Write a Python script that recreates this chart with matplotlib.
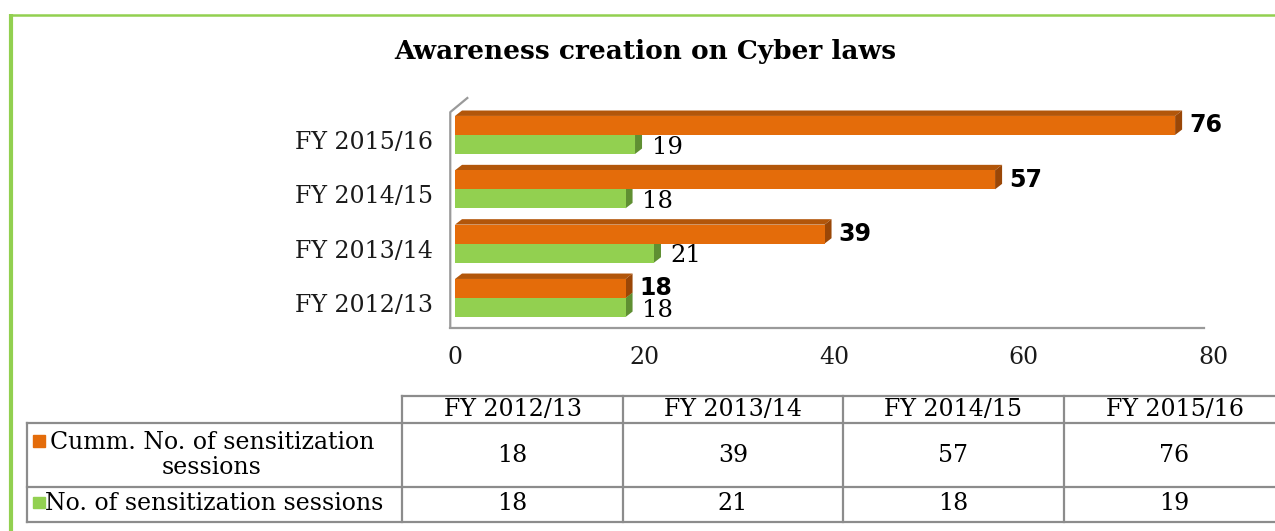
"""Awareness creation on Cyber laws: 3D-style horizontal bars with a data table."""

import matplotlib
matplotlib.use("Agg")
import matplotlib.pyplot as plt
from matplotlib.patches import Polygon, Rectangle
from matplotlib.lines import Line2D

plt.rcParams["font.family"] = ["DejaVu Serif"]

# Data
categories = ["FY 2012/13", "FY 2013/14", "FY 2014/15", "FY 2015/16"]
cumm_sessions = [18, 39, 57, 76]
sessions = [18, 21, 18, 19]
cumm_label = "Cumm. No. of sensitization\nsessions"
sess_label = "No. of sensitization sessions"
x_ticks = [0, 20, 40, 60, 80]
title = "Awareness creation on Cyber laws"

# Colours
ORANGE = "#E46C0A"
ORANGE_TOP = "#B2560A"
ORANGE_SIDE = "#9A4707"
GREEN = "#92D050"
GREEN_TOP = "#79B03E"
GREEN_SIDE = "#5F8F32"
GRID_GRAY = "#9a9a9a"
TABLE_GRAY = "#8c8c8c"

FS = 17  # body text size

W, H = 1275, 531
fig = plt.figure(figsize=(W / 100, H / 100), dpi=100)


def fx(px):
    return px / W


def fy(py):
    return 1 - py / H


# Green frame on the left and top
fig.add_artist(Line2D([fx(9), fx(1275)], [fy(15), fy(15)], color=GREEN, lw=1.8,
                      solid_capstyle="butt"))
fig.add_artist(Line2D([fx(10.8), fx(10.8)], [fy(14), fy(531)], color=GREEN, lw=3,
                      solid_capstyle="butt"))

fig.text(fx(645), fy(52), title, ha="center", va="center",
         fontsize=19, fontweight="bold")

# Plot area in pixel terms
ax = fig.add_axes([fx(455), fy(327), fx(1213) - fx(455), (327 - 98) / H])
ax.set_xlim(0, 80)
ax.set_ylim(-0.534, 3.68)
for s in ax.spines.values():
    s.set_visible(False)

bar_h = 0.35
dx, dy = 0.74, 0.1  # depth of the 3D faces


def bar3d(y, v, front, top, side):
    bottom, upper = y - bar_h / 2, y + bar_h / 2
    ax.add_patch(Polygon([(0, upper), (v, upper), (v + dx, upper + dy), (dx, upper + dy)],
                         closed=True, facecolor=top, edgecolor="none"))
    ax.add_patch(Polygon([(v, bottom), (v, upper), (v + dx, upper + dy), (v + dx, bottom + dy)],
                         closed=True, facecolor=side, edgecolor="none"))
    ax.barh(y, v, height=bar_h, color=front, edgecolor="none")


# back wall / floor outline
ax.add_line(Line2D([-0.5, -0.5, 1.3], [-0.534, 3.42, 3.68], color=GRID_GRAY, lw=1.6, clip_on=False))
ax.add_line(Line2D([-0.5, 79], [-0.56, -0.56], color=GRID_GRAY, lw=1.6, clip_on=False))

for i, (c, s) in enumerate(zip(cumm_sessions, sessions)):
    bar3d(i - 0.175, s, GREEN, GREEN_TOP, GREEN_SIDE)
    bar3d(i + 0.175, c, ORANGE, ORANGE_TOP, ORANGE_SIDE)
    ax.annotate(str(s), (s, i - 0.175), xytext=(12, -2), textcoords="offset points",
                ha="left", va="center", fontsize=17.5)
    ax.annotate(str(c), (c, i + 0.175), xytext=(10, 0), textcoords="offset points",
                ha="left", va="center", fontsize=17, fontweight="bold",
                family=["DejaVu Sans"])

ax.set_yticks([i - 0.09 for i in range(len(categories))])
ax.set_yticklabels(categories)
ax.set_xticks(x_ticks)
ax.set_xticklabels([str(t) for t in x_ticks])
ax.tick_params(axis="both", length=0, labelsize=FS, colors="#1a1a1a")
ax.tick_params(axis="y", pad=16)
ax.tick_params(axis="x", pad=14)

# Data table below
col_edges = [402, 623, 843, 1064, 1285]
row_edges = [396, 423, 487, 522]
left_edge = 27

fig.add_artist(Line2D([fx(col_edges[0]), fx(col_edges[-1])], [fy(row_edges[0])] * 2,
                      color=TABLE_GRAY, lw=1.6))
for ry in row_edges[1:]:
    fig.add_artist(Line2D([fx(left_edge), fx(col_edges[-1])], [fy(ry)] * 2,
                          color=TABLE_GRAY, lw=1.6))
fig.add_artist(Line2D([fx(left_edge)] * 2, [fy(row_edges[1]), fy(row_edges[-1])],
                      color=TABLE_GRAY, lw=1.6))
for cx in col_edges[:-1]:
    fig.add_artist(Line2D([fx(cx)] * 2, [fy(row_edges[0]), fy(row_edges[-1])],
                          color=TABLE_GRAY, lw=1.6))

for j, cat in enumerate(categories):
    cx = (col_edges[j] + col_edges[j + 1]) / 2
    fig.text(fx(cx), fy(409), cat, ha="center", va="center", fontsize=FS)
    fig.text(fx(cx), fy(455), str(cumm_sessions[j]), ha="center", va="center", fontsize=FS)
    fig.text(fx(cx), fy(504), str(sessions[j]), ha="center", va="center", fontsize=FS)

fig.add_artist(Rectangle((fx(33), fy(447)), fx(12), 12 / H, color=ORANGE))
fig.add_artist(Rectangle((fx(33), fy(508)), fx(12), 11 / H, color=GREEN))
fig.text(fx(212), fy(455), cumm_label, ha="center", va="center", fontsize=FS,
         multialignment="center", linespacing=1.15)
fig.text(fx(45), fy(504), sess_label, ha="left", va="center", fontsize=FS)

fig.savefig("out.png", dpi=100)
